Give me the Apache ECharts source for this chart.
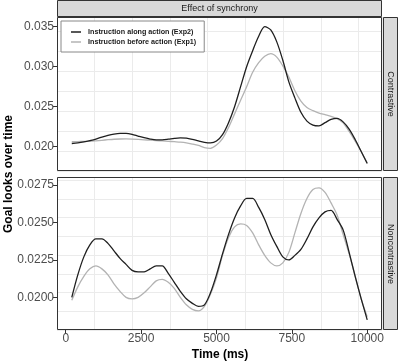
<!DOCTYPE html>
<html>
<head>
<meta charset="utf-8">
<script src="https://cdn.jsdelivr.net/npm/echarts@6/dist/echarts.min.js"></script>
<style>
  html, body { margin: 0; padding: 0; background: #fff; }
  #chart { width: 400px; height: 362px; }
</style>
</head>
<body>
<div id="chart"></div>
<script>
// time points (ms), every 200 ms
const times = [200, 400, 600, 800, 1000, 1200, 1400, 1600, 1800, 2000,
  2200, 2400, 2600, 2800, 3000, 3200, 3400, 3600, 3800, 4000,
  4200, 4400, 4600, 4800, 5000, 5200, 5400, 5600, 5800, 6000,
  6200, 6400, 6600, 6800, 7000, 7200, 7400, 7600, 7800, 8000,
  8200, 8400, 8600, 8800, 9000, 9200, 9400, 9600, 9800, 10000];

// Contrastive panel
const contrExp2 = [0.0204, 0.02048, 0.0206, 0.02076, 0.02095, 0.0212, 0.02142, 0.02158, 0.02166, 0.02166,
  0.02155, 0.02133, 0.02112, 0.02095, 0.02085, 0.02086, 0.02094, 0.02104, 0.0211, 0.02107,
  0.02092, 0.02072, 0.02055, 0.02047, 0.0207, 0.0215, 0.0230, 0.0250, 0.0275, 0.0300,
  0.0320, 0.0338, 0.0350, 0.0346, 0.0331, 0.0308, 0.0281, 0.0261, 0.0243, 0.0232,
  0.0227, 0.0226, 0.0230, 0.0234, 0.02353, 0.0231, 0.0222, 0.0209, 0.0194, 0.0179];
const contrExp1 = [0.02063, 0.02064, 0.02065, 0.02067, 0.02073, 0.0208, 0.02087, 0.02093, 0.02096, 0.02097,
  0.02095, 0.02091, 0.02086, 0.02081, 0.02076, 0.02072, 0.02067, 0.02062, 0.02057, 0.02048,
  0.02033, 0.02015, 0.01988, 0.0198, 0.0202, 0.0210, 0.0224, 0.0241, 0.0258, 0.0275,
  0.0293, 0.0305, 0.0313, 0.03164, 0.0312, 0.0301, 0.0287, 0.0270, 0.0257, 0.0249,
  0.0245, 0.0242, 0.0240, 0.0238, 0.0235, 0.0230, 0.0219, 0.0207, 0.0194, 0.0180];

// Noncontrastive panel
const nonExp2 = [0.0200, 0.0215, 0.0227, 0.0235, 0.0239, 0.0239, 0.0236, 0.0231, 0.0226, 0.0222,
  0.0218, 0.0217, 0.0217, 0.0219, 0.0221, 0.0221, 0.0216, 0.0210, 0.0204, 0.0199,
  0.0196, 0.0194, 0.0195, 0.0203, 0.0215, 0.0229, 0.0242, 0.0253, 0.0261, 0.0266,
  0.0266, 0.0260, 0.0252, 0.0242, 0.0234, 0.0227, 0.0225, 0.0228, 0.0232, 0.0239,
  0.0247, 0.0253, 0.0257, 0.0258, 0.0252, 0.0245, 0.0230, 0.0214, 0.0199, 0.0185];
const nonExp1 = [0.0198, 0.0207, 0.0214, 0.0219, 0.0221, 0.0219, 0.0215, 0.0209, 0.0204, 0.0200,
  0.0199, 0.0200, 0.0203, 0.0207, 0.0211, 0.0212, 0.0210, 0.0206, 0.0200, 0.0195,
  0.0192, 0.0191, 0.0194, 0.0202, 0.0213, 0.0228, 0.0240, 0.0247, 0.0249, 0.0248,
  0.0243, 0.0235, 0.0228, 0.0223, 0.0221, 0.0223, 0.0230, 0.0243, 0.0256, 0.0266,
  0.0272, 0.0273, 0.0270, 0.0263, 0.0255, 0.0242, 0.0229, 0.0214, 0.0199, 0.0187];

// tick labels
const xTicks = [0, 2500, 5000, 7500, 10000];
const yTicksTop = [0.020, 0.025, 0.030, 0.035];
const yTicksBottom = [0.0200, 0.0225, 0.0250, 0.0275];

const nameExp2 = 'Instruction along action (Exp2)';
const nameExp1 = 'Instruction before action (Exp1)';

const FONT = 'Liberation Sans';
const gridColor = '#ebebeb';

function pairs(vals) {
  return times.map((t, i) => [t, vals[i]]);
}

function lineSeries(name, vals, color, xi, yi) {
  return {
    name: name,
    type: 'line',
    xAxisIndex: xi,
    yAxisIndex: yi,
    data: pairs(vals),
    smooth: 0.3,
    symbol: 'none',
    color: color,
    lineStyle: { color: color, width: 1.3 },
    z: color === '#1f1f1f' ? 4 : 3
  };
}

// axis that only draws the grey grid lines
function gridAxis(gi, pos, min, max, interval) {
  return {
    type: 'value', gridIndex: gi, position: pos, offset: 0, min: min, max: max, interval: interval,
    axisLine: { show: false, onZero: false }, axisTick: { show: false }, axisLabel: { show: false },
    splitLine: { show: true, lineStyle: { color: gridColor, width: 1 } }
  };
}

// axis that only draws ticks + labels
function labelAxis(gi, pos, min, max, ticks, fmt) {
  return {
    type: 'value', gridIndex: gi, position: pos, offset: 0, min: min, max: max,
    axisLine: { show: false, onZero: false },
    axisTick: { show: true, customValues: ticks, length: 4, lineStyle: { color: '#333', width: 1 } },
    axisLabel: {
      show: true, customValues: ticks, formatter: fmt, margin: 3,
      color: '#4d4d4d', fontSize: 12, fontFamily: FONT
    },
    splitLine: { show: false }
  };
}

const xMin = -290, xMax = 10490;
const yTop = [0.01696, 0.03621];
const yBot = [0.01782, 0.02803];

const chart = echarts.init(document.getElementById('chart'));

const option = {
  backgroundColor: '#fff',
  animation: false,
  grid: [
    { left: 57, top: 17, width: 325, height: 154, backgroundColor: '#fff', show: true, borderWidth: 0 },
    { left: 57, top: 177, width: 325, height: 153, backgroundColor: '#fff', show: true, borderWidth: 0 }
  ],
  legend: {
    orient: 'vertical', left: 61, top: 21,
    padding: [7, 8, 6, 10], itemGap: 2, itemWidth: 10, itemHeight: 1.5, icon: 'rect',
    backgroundColor: '#fff', borderColor: '#888', borderWidth: 1, borderRadius: 0,
    data: [nameExp2, nameExp1],
    textStyle: { fontSize: 7.2, lineHeight: 8, fontWeight: 'bold', color: '#1a1a1a', fontFamily: FONT, padding: [0, 0, 0, 2] }
  },
  xAxis: [
    gridAxis(0, 'bottom', xMin, xMax, 1250),
    gridAxis(1, 'bottom', xMin, xMax, 1250),
    labelAxis(1, 'bottom', xMin, xMax, xTicks, v => String(v))
  ],
  yAxis: [
    gridAxis(0, 'left', yTop[0], yTop[1], 0.0025),
    labelAxis(0, 'left', yTop[0], yTop[1], yTicksTop, v => v.toFixed(3)),
    gridAxis(1, 'left', yBot[0], yBot[1], 0.00125),
    labelAxis(1, 'left', yBot[0], yBot[1], yTicksBottom, v => v.toFixed(4))
  ],
  series: [
    lineSeries(nameExp1, contrExp1, '#b3b3b3', 0, 0),
    lineSeries(nameExp2, contrExp2, '#1f1f1f', 0, 0),
    lineSeries(nameExp1, nonExp1, '#b3b3b3', 1, 2),
    lineSeries(nameExp2, nonExp2, '#1f1f1f', 1, 2)
  ],
  graphic: [
    // panel borders
    { type: 'rect', z: 50, silent: true, shape: { x: 57.5, y: 17.5, width: 324, height: 153 },
      style: { fill: 'none', stroke: '#333', lineWidth: 1 } },
    { type: 'rect', z: 50, silent: true, shape: { x: 57.5, y: 177.5, width: 324, height: 152 },
      style: { fill: 'none', stroke: '#333', lineWidth: 1 } },
    // strips
    { type: 'rect', z: 50, silent: true, shape: { x: 57.5, y: 0.5, width: 324, height: 16 },
      style: { fill: '#d9d9d9', stroke: '#333', lineWidth: 1 } },
    { type: 'rect', z: 50, silent: true, shape: { x: 383.5, y: 17.5, width: 14, height: 153 },
      style: { fill: '#d9d9d9', stroke: '#333', lineWidth: 1 } },
    { type: 'rect', z: 50, silent: true, shape: { x: 383.5, y: 177.5, width: 14, height: 152 },
      style: { fill: '#d9d9d9', stroke: '#333', lineWidth: 1 } },
    { type: 'text', z: 51, silent: true, x: 219.5, y: 9,
      style: { text: 'Effect of synchrony', fill: '#1a1a1a', font: '9px "Liberation Sans"', align: 'center', verticalAlign: 'middle' } },
    { type: 'text', z: 51, silent: true, x: 390.5, y: 94, rotation: -Math.PI / 2,
      style: { text: 'Contrastive', fill: '#1a1a1a', font: '9px "Liberation Sans"', align: 'center', verticalAlign: 'middle' } },
    { type: 'text', z: 51, silent: true, x: 390.5, y: 254, rotation: -Math.PI / 2,
      style: { text: 'Noncontrastive', fill: '#1a1a1a', font: '9px "Liberation Sans"', align: 'center', verticalAlign: 'middle' } },
    // axis titles
    { type: 'text', z: 51, silent: true, x: 9, y: 174, rotation: Math.PI / 2,
      style: { text: 'Goal looks over time', fill: '#000', font: 'bold 12px "Liberation Sans"', align: 'center', verticalAlign: 'middle' } },
    { type: 'text', z: 51, silent: true, x: 220, y: 355,
      style: { text: 'Time (ms)', fill: '#000', font: 'bold 12px "Liberation Sans"', align: 'center', verticalAlign: 'middle' } }
  ]
};

chart.setOption(option);
</script>
</body>
</html>
